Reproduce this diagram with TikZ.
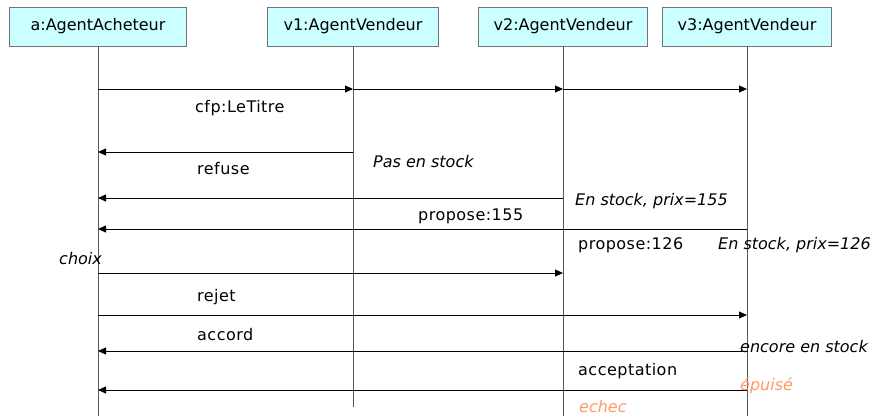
\documentclass[tikz,border=0pt]{standalone}
\usepackage{fontspec}
\setmainfont{DejaVu Sans}
\newfontfamily\msgfont[LetterSpace=3]{DejaVu Sans}
\usetikzlibrary{arrows.meta}
\definecolor{boxfill}{HTML}{CCFFFF}
\definecolor{noteorange}{HTML}{FF9966}
\begin{document}
\begin{tikzpicture}[x=1pt,y=-1pt,
  agent/.style={draw=black!55, fill=boxfill, minimum height=39pt, inner sep=0pt,
                font=\fontsize{16}{19}\selectfont},
  life/.style={draw=black!65, line width=0.8pt},
  msg/.style={draw=black, line width=0.8pt, -{Triangle[length=8pt,width=7pt]}},
  lbl/.style={anchor=base west, inner sep=0pt, font=\msgfont\fontsize{16}{19}\selectfont},
  cond/.style={anchor=base west, inner sep=0pt, font=\fontsize{16}{19}\selectfont\itshape},
]
\useasboundingbox (0,0) rectangle (875,416);

% participants
\node[agent, minimum width=177pt] (a)  at (98,26.5)  {a:AgentAcheteur};
\node[agent, minimum width=171pt] (v1) at (353,26.5) {v1:AgentVendeur};
\node[agent, minimum width=169pt] (v2) at (563,26.5) {v2:AgentVendeur};
\node[agent, minimum width=169pt] (v3) at (747,26.5) {v3:AgentVendeur};

% lifelines
\coordinate (aend)  at (98,416);
\coordinate (v1end) at (353,407);
\coordinate (v2end) at (563,416);
\coordinate (v3end) at (747,416);
\draw[life] (a.south)  -- (aend);
\draw[life] (v1.south) -- (v1end);
\draw[life] (v2.south) -- (v2end);
\draw[life] (v3.south) -- (v3end);

% call for proposals
\draw[msg] (a.south |- 0,89)  -- (v1.south |- 0,89);
\draw[msg] (v1.south |- 0,89) -- (v2.south |- 0,89);
\draw[msg] (v2.south |- 0,89) -- (v3.south |- 0,89);
\node[lbl] (tcfp) at (195,112) {cfp:LeTitre};

% answers
\draw[msg] (v1.south |- 0,152) -- (a.south |- 0,152);
\node[lbl]  (tref) at (197,174) {refuse};
\node[cond] (tpas) at (373,167) {Pas en stock};

\draw[msg] (v2.south |- 0,198) -- (a.south |- 0,198);
\node[cond] (ts155) at (575,205) {En stock, prix=155};
\node[lbl]  (tp155) at (418,220) {propose:155};

\draw[msg] (v3.south |- 0,229) -- (a.south |- 0,229);
\node[lbl]  (tp126) at (578,249) {propose:126};
\node[cond] (ts126) at (718,249) {En stock, prix=126};

\node[cond] (tchoix) at (59,264) {choix};

% decisions
\draw[msg] (a.south |- 0,273) -- (v2.south |- 0,273);
\node[lbl] (trej) at (197,301) {rejet};

\draw[msg] (a.south |- 0,315) -- (v3.south |- 0,315);
\node[lbl] (tacc) at (197,340) {accord};

% outcomes
\draw[msg] (v3.south |- 0,351) -- (a.south |- 0,351);
\node[cond] (tenc) at (740,352) {encore en stock};
\node[lbl]  (tacp) at (578,375) {acceptation};

\draw[msg] (v3.south |- 0,390) -- (a.south |- 0,390);
\node[cond, text=noteorange] (tepu) at (740,390) {épuisé};
\node[cond, text=noteorange] (tech) at (579,412) {echec};
\end{tikzpicture}
\end{document}
